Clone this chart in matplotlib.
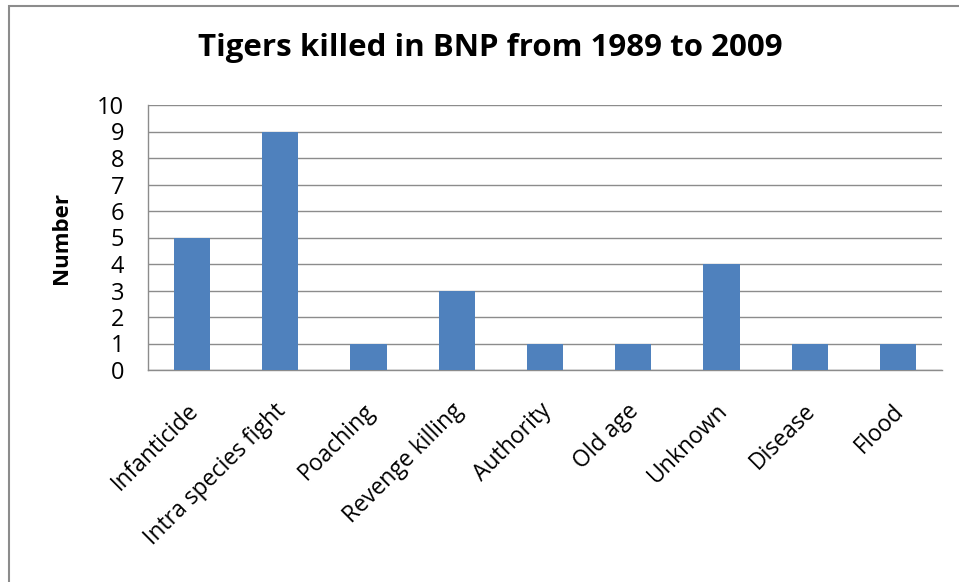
import matplotlib.pyplot as plt
import matplotlib.transforms as mtransforms
from matplotlib.patches import Rectangle

plt.rcParams['font.family'] = ['Open Sans', 'DejaVu Sans']

causes = ['Infanticide', 'Intra species fight', 'Poaching', 'Revenge killing',
          'Authority', 'Old age', 'Unknown', 'Disease', 'Flood']
killed = [5, 9, 1, 3, 1, 1, 4, 1, 1]

fig = plt.figure(figsize=(9.59, 5.82), dpi=100)
ax = fig.add_axes([148 / 959, 1 - 370 / 582, 794 / 959, 265 / 582])

# outer chart frame (only top/left edges fall inside the image)
fig.patches.append(Rectangle((9 / 959, -0.1), 1.2, 1 - 6 / 582 + 0.1,
                             transform=fig.transFigure, fill=False,
                             edgecolor='#8c8c8c', linewidth=1.5))

x = range(len(causes))
ax.bar(x, killed, width=0.41, color='#4f81bd', zorder=3)

ax.set_xlim(-0.5, len(causes) - 0.5)
ax.set_ylim(0, 10)
ax.set_yticks(range(0, 11))
ax.yaxis.grid(True, color='#8c8c8c', linewidth=1, zorder=0)
ax.set_axisbelow(True)

for s in ['top', 'right']:
    ax.spines[s].set_visible(False)
for s in ['left', 'bottom']:
    ax.spines[s].set_color('#8c8c8c')
    ax.spines[s].set_linewidth(1)

ax.tick_params(axis='both', length=0)
ax.tick_params(axis='y', pad=17, labelsize=17)
ax.set_xticks(list(x))
ax.set_xticklabels(causes, rotation=45, ha='right', rotation_mode='anchor',
                   fontsize=16.5)
ax.tick_params(axis='x', pad=21)
shift = mtransforms.ScaledTranslation(-6 / 100, 0, fig.dpi_scale_trans)
for lbl in ax.get_xticklabels():
    lbl.set_transform(lbl.get_transform() + shift)

ax.set_ylabel('Number', fontsize=16, fontweight='bold', labelpad=18)
fig.text(490 / 959, 1 - 48 / 582, 'Tigers killed in BNP from 1989 to 2009',
         ha='center', va='center', fontsize=22.5, fontweight='bold')

fig.savefig('out.png', dpi=100)
